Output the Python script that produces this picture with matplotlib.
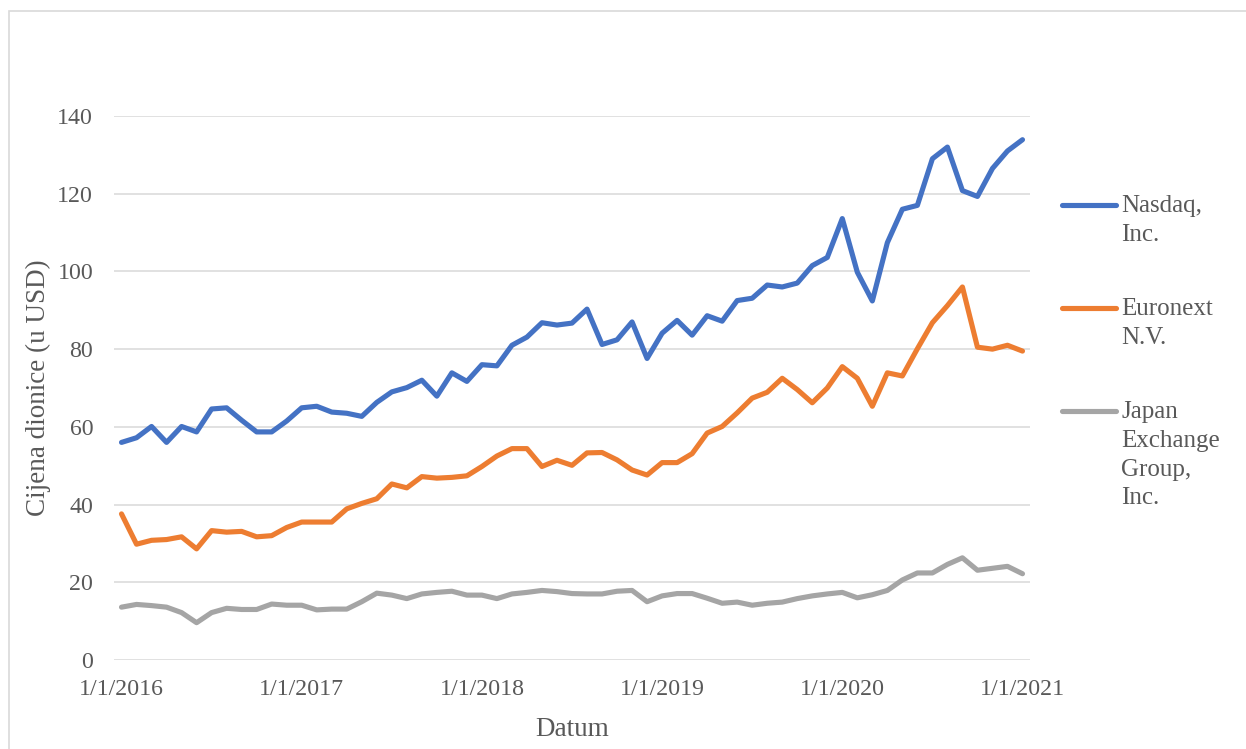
import matplotlib
matplotlib.use("Agg")
import matplotlib.pyplot as plt
from matplotlib.lines import Line2D
from matplotlib.patches import Rectangle

# monthly closing prices, 1/1/2016 .. 1/1/2021
nasdaq = [56.0, 57.2, 60.1, 56.0, 60.1, 58.7, 64.6, 64.9, 61.7, 58.7,
          58.7, 61.5, 64.9, 65.3, 63.8, 63.5, 62.7, 66.3, 69.0, 70.1,
          72.0, 67.9, 73.9, 71.7, 76.0, 75.7, 81.0, 83.1, 86.8, 86.2,
          86.7, 90.3, 81.2, 82.4, 87.0, 77.6, 84.1, 87.4, 83.6, 88.6,
          87.2, 92.5, 93.1, 96.5, 96.0, 97.0, 101.5, 103.6, 113.6, 99.8,
          92.4, 107.4, 116.0, 117.0, 129.0, 132.0, 120.8, 119.3, 126.5, 131.0,
          133.9]
euronext = [37.6, 29.8, 30.8, 31.0, 31.7, 28.6, 33.3, 32.9, 33.1, 31.7,
            32.0, 34.1, 35.5, 35.5, 35.5, 38.9, 40.3, 41.5, 45.3, 44.3,
            47.2, 46.8, 47.0, 47.4, 49.8, 52.5, 54.4, 54.4, 49.8, 51.4,
            50.1, 53.3, 53.4, 51.5, 48.9, 47.6, 50.8, 50.8, 53.1, 58.4,
            60.1, 63.6, 67.4, 68.9, 72.5, 69.6, 66.2, 70.0, 75.5, 72.5,
            65.3, 73.9, 73.1, 80.1, 86.8, 91.2, 96.0, 80.5, 80.0, 81.0,
            79.5]
jpx = [13.6, 14.3, 14.0, 13.6, 12.2, 9.6, 12.2, 13.3, 13.0, 13.0,
       14.4, 14.1, 14.1, 12.9, 13.1, 13.1, 15.0, 17.2, 16.7, 15.8,
       17.0, 17.4, 17.7, 16.7, 16.7, 15.8, 17.0, 17.4, 17.9, 17.6,
       17.1, 17.0, 17.0, 17.7, 17.9, 15.0, 16.5, 17.1, 17.1, 15.9,
       14.6, 14.9, 14.1, 14.6, 14.9, 15.8, 16.5, 17.0, 17.4, 16.0,
       16.8, 17.9, 20.6, 22.4, 22.4, 24.6, 26.3, 23.1, 23.6, 24.1,
       22.2]
series_names = ["Nasdaq,\nInc.", "Euronext\nN.V.", "Japan\nExchange\nGroup,\nInc."]
series_colors = ["#4472C4", "#ED7D31", "#A5A5A5"]
tick_labels = ["1/1/2016", "1/1/2017", "1/1/2018", "1/1/2019", "1/1/2020", "1/1/2021"]

txt = "#595959"
plt.rcParams["font.family"] = ["Liberation Serif", "DejaVu Serif"]

fig = plt.figure(figsize=(12.46, 7.49), dpi=100)
ax = fig.add_axes([114 / 1246, 89 / 749, 916 / 1246, 544 / 749])

months = list(range(len(nasdaq)))
for vals, col in zip([nasdaq, euronext, jpx], series_colors):
    ax.plot(months, vals, color=col, lw=3.7, solid_capstyle="round", solid_joinstyle="round")

ax.set_xlim(-0.5, 60.5)
ax.set_ylim(0, 140)
ax.set_yticks(range(0, 141, 20))
ax.set_xticks(range(0, 61, 12))
ax.set_xticklabels(tick_labels)
ax.grid(axis="y", color="#D9D9D9", lw=1.1)
ax.set_axisbelow(True)
for s in ax.spines.values():
    s.set_visible(False)
ax.tick_params(length=0, labelsize=17.2, labelcolor=txt)
ax.tick_params(axis="y", pad=15)
ax.tick_params(axis="x", pad=14)
ax.set_xlabel("Datum", fontsize=19.5, color=txt, labelpad=12)
ax.set_ylabel("Cijena dionice (u USD)", fontsize=19.5, color=txt)
ax.yaxis.set_label_coords(-63 / 916, 0.5)

# legend, drawn by hand so the line sits on the first text row
ys = [205, 308, 411]
for name, col, y in zip(series_names, series_colors, ys):
    fy = 1 - y / 749
    fig.add_artist(Line2D([1062 / 1246, 1116 / 1246], [fy, fy], color=col, lw=3.7,
                          solid_capstyle="round"))
    fig.text(1121 / 1246, fy + 10 / 749, name, fontsize=18, color=txt, va="top", ha="left",
             linespacing=1.4)

# chart border
fig.add_artist(Rectangle((8.5 / 1246, -0.1), 1.2, 1.1 - 11 / 749, transform=fig.transFigure,
                         fill=False, edgecolor="#D9D9D9", lw=1.2))

fig.savefig("out.png", dpi=100)
